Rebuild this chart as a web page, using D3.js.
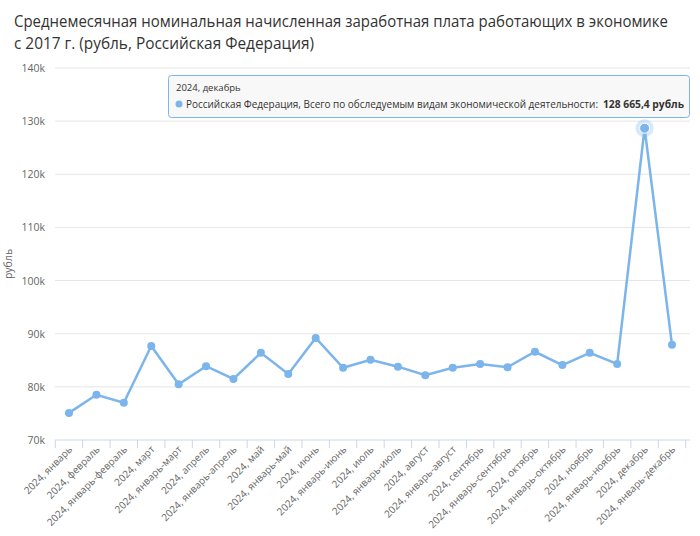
<!DOCTYPE html><html><head><meta charset="utf-8"><script src="https://cdn.jsdelivr.net/npm/d3@7"></script>
<style>body{margin:0;background:#fff;font-family:"Open Sans",sans-serif}</style></head><body><svg id="c" width="700" height="536"></svg>
<script>
const months=["январь","февраль","январь-февраль","март","январь-март","апрель","январь-апрель","май","январь-май","июнь","январь-июнь","июль","январь-июль","август","январь-август","сентябрь","январь-сентябрь","октябрь","январь-октябрь","ноябрь","январь-ноябрь","декабрь","январь-декабрь"];
const categories=months.map(m=>"2024, "+m);
const values=[75100,78500,77000,87700,80500,83900,81500,86400,82400,89200,83600,85100,83800,82200,83600,84300,83700,86600,84100,86400,84300,128665.4,87900];
const yTicks=[70000,80000,90000,100000,110000,120000,130000,140000];
const svg=d3.select("#c");
const L=55,R=686,T=68,B=440;
const x=d3.scalePoint().domain(categories).range([69,672]);
const y=d3.scaleLinear().domain([70000,140000]).range([B,T]);
svg.append("text").attr("x",14).attr("y",27).attr("font-size",16.5).attr("fill","#333").attr("textLength",654).attr("lengthAdjust","spacingAndGlyphs").text("Среднемесячная номинальная начисленная заработная плата работающих в экономике");
svg.append("text").attr("x",14).attr("y",49).attr("font-size",16.5).attr("fill","#333").attr("textLength",300).attr("lengthAdjust","spacingAndGlyphs").text("с 2017 г. (рубль, Российская Федерация)");
const g=svg.append("g");
yTicks.forEach(t=>{
 g.append("line").attr("x1",L).attr("x2",690).attr("y1",y(t)).attr("y2",y(t)).attr("stroke",t==70000?"#ccd6eb":"#e6e6e6");
 g.append("text").attr("x",45).attr("y",y(t)+4).attr("text-anchor","end").attr("font-size",10.5).attr("fill","#666").text(t/1000+"k");
});
svg.append("text").attr("transform",`translate(12,${(T+B)/2+10}) rotate(-90)`).attr("text-anchor","middle").attr("font-size",10.5).attr("fill","#666").text("рубль");
categories.forEach(c=>{
 const px=x(c)+27.4/2;
 g.append("line").attr("x1",px).attr("x2",px).attr("y1",B).attr("y2",B+8).attr("stroke","#ccd6eb");
 g.append("text").attr("transform",`translate(${x(c)+4},${B+10}) rotate(-45)`).attr("text-anchor","end").attr("font-size",10).attr("fill","#666").text(c);
});
g.append("line").attr("x1",x(categories[0])-13.7).attr("x2",x(categories[0])-13.7).attr("y1",B).attr("y2",B+8).attr("stroke","#ccd6eb");
const line=d3.line().x((d,i)=>x(categories[i])).y(d=>y(d));
g.append("path").attr("d",line(values)).attr("fill","none").attr("stroke","#7cb5ec").attr("stroke-width",2.5);
values.forEach((v,i)=>{g.append("circle").attr("cx",x(categories[i])).attr("cy",y(v)).attr("r",i==21?0:4).attr("fill","#7cb5ec");});
g.append("circle").attr("cx",x(categories[21])).attr("cy",y(values[21])).attr("r",9).attr("fill","#7cb5ec").attr("opacity",0.3);
g.append("circle").attr("cx",x(categories[21])).attr("cy",y(values[21])).attr("r",5).attr("fill","#7cb5ec").attr("stroke","#fff").attr("stroke-width",1);
const tt=svg.append("g");
tt.append("rect").attr("x",168.5).attr("y",75.5).attr("width",521).attr("height",42).attr("rx",3).attr("fill","rgba(247,247,247,0.9)").attr("stroke","#7cb5ec");
tt.append("text").attr("x",176).attr("y",91).attr("font-size",9.5).attr("fill","#333").text("2024, декабрь");
tt.append("circle").attr("cx",179).attr("cy",104).attr("r",3.5).attr("fill","#7cb5ec");
tt.append("text").attr("x",186).attr("y",108).attr("font-size",11).attr("fill","#333").attr("textLength",412).attr("lengthAdjust","spacingAndGlyphs").text("Российская Федерация, Всего по обследуемым видам экономической деятельности:");
tt.append("text").attr("x",603).attr("y",108).attr("font-size",11).attr("font-weight","bold").attr("fill","#333").attr("textLength",81).attr("lengthAdjust","spacingAndGlyphs").text("128 665,4 рубль");
</script></body></html>
